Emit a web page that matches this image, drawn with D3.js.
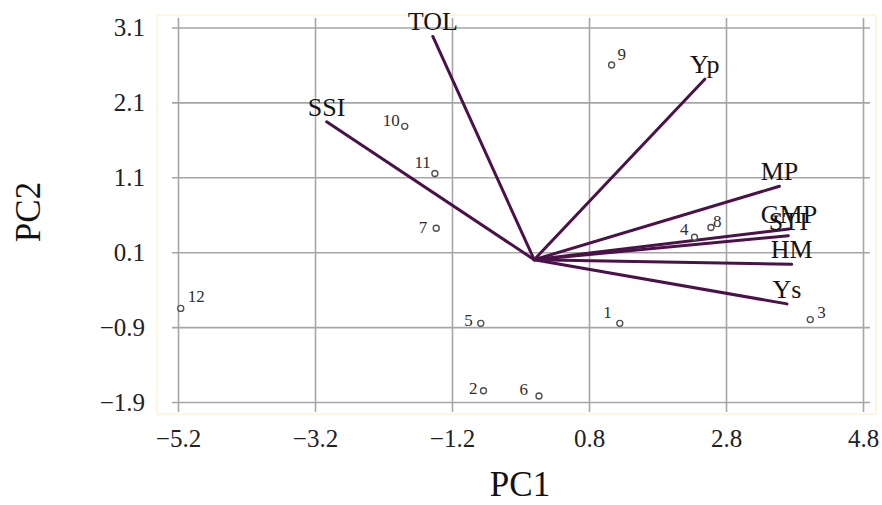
<!DOCTYPE html>
<html>
<head>
<meta charset="utf-8">
<script src="https://cdn.jsdelivr.net/npm/d3@7"></script>
<style>
  html, body { margin: 0; padding: 0; background: #ffffff; }
  svg { display: block; }
  text { font-family: "Liberation Serif", "Times New Roman", serif; }
</style>
</head>
<body>
<svg id="chart" width="882" height="505"></svg>
<script>
// ---- Data ----
const xTicks = [-5.2, -3.2, -1.2, 0.8, 2.8, 4.8];
const yTicks = [3.1, 2.1, 1.1, 0.1, -0.9, -1.9];

// Variable vectors (loadings)
const varNames = ["TOL", "SSI", "Yp", "MP", "GMP", "STI", "HM", "Ys"];
const varPC1   = [-1.48, -3.03, 2.49, 3.58, 3.72, 3.71, 3.76, 3.69];
const varPC2   = [ 2.98,  1.84, 2.41, 0.98, 0.41, 0.32, -0.06, -0.59];

// Genotype scores
const genotypes = ["1", "2", "3", "4", "5", "6", "7", "8", "9", "10", "11", "12"];
const genoPC1   = [1.25, -0.74, 4.03, 2.34, -0.78, 0.07, -1.43, 2.58, 1.13, -1.89, -1.45, -5.16];
const genoPC2   = [-0.85, -1.75, -0.80, 0.30, -0.85, -1.82, 0.42, 0.43, 2.60, 1.78, 1.15, -0.65];

// Label placement for genotype numbers (layout only)
const genoLabelLayout = {
  "1":  { dx: -8,  dy: -5, anchor: "end" },
  "2":  { dx: -6,  dy: 3,  anchor: "end" },
  "3":  { dx: 7,   dy: -2, anchor: "start" },
  "4":  { dx: -6,  dy: -2, anchor: "end" },
  "5":  { dx: -8,  dy: 3,  anchor: "end" },
  "6":  { dx: -11, dy: -1, anchor: "end" },
  "7":  { dx: -9,  dy: 5,  anchor: "end" },
  "8":  { dx: 2,   dy: 0,  anchor: "start" },
  "9":  { dx: 6,   dy: -5, anchor: "start" },
  "10": { dx: -5,  dy: 0,  anchor: "end" },
  "11": { dx: -4,  dy: -6, anchor: "end" },
  "12": { dx: 7,   dy: -6, anchor: "start" }
};

// ---- Layout ----
const svg = d3.select("#chart");
const xLeft = 178, xRight = 863, yTop = 27.5, yBottom = 402;
const gridX0 = 172, gridX1 = 870, gridY0 = 18, gridY1 = 412;

const x = d3.scaleLinear().domain([-5.2, 4.8]).range([xLeft, xRight]);
const y = d3.scaleLinear().domain([-1.9, 3.1]).range([yBottom, yTop]);

// faint plot-area border
svg.append("rect")
  .attr("x", 157).attr("y", 15).attr("width", 719).attr("height", 399)
  .attr("fill", "#ffffff").attr("stroke", "#fbf8dd").attr("stroke-width", 2);

// vertical gridlines + x tick labels
const gx = svg.append("g")
  .attr("transform", `translate(0,${gridY1})`)
  .call(d3.axisBottom(x).tickValues(xTicks).tickFormat(d3.format(".1f"))
    .tickSizeInner(-(gridY1 - gridY0)).tickSizeOuter(0).tickPadding(17));
gx.select(".domain").remove();
gx.selectAll("line").attr("stroke", "#a6a6a6").attr("stroke-width", 1.6);
gx.selectAll("text").attr("font-size", 25).attr("fill", "#222")
  .attr("font-family", "'Liberation Serif', 'Times New Roman', serif");

// horizontal gridlines + y tick labels
const gy = svg.append("g")
  .attr("transform", `translate(${gridX1},0)`)
  .call(d3.axisLeft(y).tickValues(yTicks).tickFormat(d3.format(".1f"))
    .tickSizeInner(gridX1 - gridX0).tickSizeOuter(0).tickPadding(27));
gy.select(".domain").remove();
gy.selectAll("line").attr("stroke", "#a6a6a6").attr("stroke-width", 1.6);
gy.selectAll("text").attr("font-size", 25).attr("fill", "#222")
  .attr("font-family", "'Liberation Serif', 'Times New Roman', serif");

// axis titles
svg.append("text")
  .attr("x", 520).attr("y", 496)
  .attr("text-anchor", "middle").attr("font-size", 35).attr("fill", "#111")
  .text("PC1");
svg.append("text")
  .attr("transform", "translate(40,212) rotate(-90)")
  .attr("text-anchor", "middle").attr("font-size", 35).attr("fill", "#111")
  .text("PC2");

// variable vectors
const vars = varNames.map((n, i) => ({ name: n, pc1: varPC1[i], pc2: varPC2[i] }));
const vg = svg.append("g");
vg.selectAll("line").data(vars).join("line")
  .attr("x1", x(0)).attr("y1", y(0))
  .attr("x2", d => x(d.pc1)).attr("y2", d => y(d.pc2))
  .attr("stroke", "#4a1248").attr("stroke-width", 3).attr("stroke-linecap", "round");
vg.selectAll("text").data(vars).join("text")
  .attr("x", d => x(d.pc1)).attr("y", d => y(d.pc2) - 6)
  .attr("text-anchor", "middle").attr("font-size", 26).attr("fill", "#141414")
  .text(d => d.name);

// genotype points
const genos = genotypes.map((g, i) => ({ name: g, pc1: genoPC1[i], pc2: genoPC2[i] }));
const pg = svg.append("g");
pg.selectAll("circle").data(genos).join("circle")
  .attr("cx", d => x(d.pc1)).attr("cy", d => y(d.pc2)).attr("r", 3)
  .attr("fill", "#ffffff").attr("stroke", "#505050").attr("stroke-width", 1.4);
pg.selectAll("text").data(genos).join("text")
  .attr("x", d => x(d.pc1) + genoLabelLayout[d.name].dx)
  .attr("y", d => y(d.pc2) + genoLabelLayout[d.name].dy)
  .attr("text-anchor", d => genoLabelLayout[d.name].anchor)
  .attr("font-size", 17).attr("fill", "#2e2e2e")
  .text(d => d.name);
</script>
</body>
</html>
